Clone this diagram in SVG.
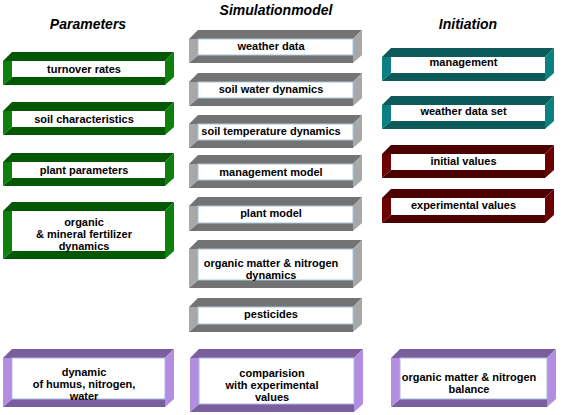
<svg xmlns="http://www.w3.org/2000/svg" width="567" height="415" viewBox="0 0 567 415">
<style>
.h{font-family:"Liberation Sans",Arial,sans-serif;font-size:14px;font-weight:bold;font-style:italic;fill:#000;text-anchor:middle}
.t{font-family:"Liberation Sans",Arial,sans-serif;font-size:11px;font-weight:bold;fill:#000;text-anchor:middle}
.w{fill:#fff}
.gd{fill:#045804}.gl{fill:#0e800e}
.sd{fill:#737373}.sl{fill:#a8a8a8}
.cd{fill:#0c5a5a}.cl{fill:#0b8080}
.rd{fill:#4c0000}.rl{fill:#6c0000}
.pd{fill:#7b5e9e}.pl{fill:#b28de0}
.grey .w{stroke:#a9c8d8;stroke-width:1}
.purp .w{stroke:#a9b8e0;stroke-width:1}
</style>
<rect width="567" height="415" fill="#fff"/>
<text class="h" x="88" y="29">Parameters</text>
<text class="h" x="276" y="15">Simulationmodel</text>
<text class="h" x="468" y="29">Initiation</text>

<!-- left column, green: L=3 R=174 -->
<g id="turnover-rates">
<polygon class="gd" points="3,61 12,52 174,52 165,61"/>
<polygon class="gl" points="165,61 174,52 174,77 165,85"/>
<polygon class="gd" points="3,85 12,77 165,77 165,85"/>
<polygon class="gl" points="3,61 12,61 12,77 3,85"/>
<rect class="w" x="12" y="61" width="153" height="16"/>
<text class="t" x="84" y="73">turnover rates</text>
</g>
<g id="soil-characteristics">
<polygon class="gd" points="3,111 12,102 174,102 165,111"/>
<polygon class="gl" points="165,111 174,102 174,127 165,135"/>
<polygon class="gd" points="3,135 12,127 165,127 165,135"/>
<polygon class="gl" points="3,111 12,111 12,127 3,135"/>
<rect class="w" x="12" y="111" width="153" height="16"/>
<text class="t" x="84" y="123">soil characteristics</text>
</g>
<g id="plant-parameters">
<polygon class="gd" points="3,162 12,153 174,153 165,162"/>
<polygon class="gl" points="165,162 174,153 174,178 165,186"/>
<polygon class="gd" points="3,186 12,178 165,178 165,186"/>
<polygon class="gl" points="3,162 12,162 12,178 3,186"/>
<rect class="w" x="12" y="162" width="153" height="16"/>
<text class="t" x="84" y="174">plant parameters</text>
</g>
<g id="organic-fertilizer">
<polygon class="gd" points="3,211 12,202 174,202 165,211"/>
<polygon class="gl" points="165,211 174,202 174,251 165,259"/>
<polygon class="gd" points="3,259 12,251 165,251 165,259"/>
<polygon class="gl" points="3,211 12,211 12,251 3,259"/>
<rect class="w" x="12" y="211" width="153" height="40"/>
<text class="t" x="84" y="226">organic</text>
<text class="t" x="84" y="238">&amp; mineral fertilizer</text>
<text class="t" x="84" y="250">dynamics</text>
</g>

<!-- middle column, grey: L=189 R=362 -->
<g id="weather-data" class="grey">
<polygon class="sd" points="189,39 198,30 362,30 353,39"/>
<polygon class="sl" points="353,39 362,30 362,55 353,63"/>
<polygon class="sd" points="189,63 198,55 353,55 353,63"/>
<polygon class="sl" points="189,39 198,39 198,55 189,63"/>
<rect class="w" x="198" y="39" width="155" height="16"/>
<text class="t" x="271" y="50">weather data</text>
</g>
<g id="soil-water-dynamics" class="grey">
<polygon class="sd" points="189,82 198,73 362,73 353,82"/>
<polygon class="sl" points="353,82 362,73 362,98 353,106"/>
<polygon class="sd" points="189,106 198,98 353,98 353,106"/>
<polygon class="sl" points="189,82 198,82 198,98 189,106"/>
<rect class="w" x="198" y="82" width="155" height="16"/>
<text class="t" x="271" y="93">soil water dynamics</text>
</g>
<g id="soil-temperature-dynamics" class="grey">
<polygon class="sd" points="189,124 198,115 362,115 353,124"/>
<polygon class="sl" points="353,124 362,115 362,140 353,148"/>
<polygon class="sd" points="189,148 198,140 353,140 353,148"/>
<polygon class="sl" points="189,124 198,124 198,140 189,148"/>
<rect class="w" x="198" y="124" width="155" height="16"/>
<text class="t" x="271" y="135">soil temperature dynamics</text>
</g>
<g id="management-model" class="grey">
<polygon class="sd" points="189,164 198,155 362,155 353,164"/>
<polygon class="sl" points="353,164 362,155 362,180 353,188"/>
<polygon class="sd" points="189,188 198,180 353,180 353,188"/>
<polygon class="sl" points="189,164 198,164 198,180 189,188"/>
<rect class="w" x="198" y="164" width="155" height="16"/>
<text class="t" x="271" y="176">management model</text>
</g>
<g id="plant-model" class="grey">
<polygon class="sd" points="189,206 198,197 362,197 353,206"/>
<polygon class="sl" points="353,206 362,197 362,223 353,231"/>
<polygon class="sd" points="189,231 198,223 353,223 353,231"/>
<polygon class="sl" points="189,206 198,206 198,223 189,231"/>
<rect class="w" x="198" y="206" width="155" height="17"/>
<text class="t" x="271" y="217">plant model</text>
</g>
<g id="organic-matter-nitrogen-dynamics" class="grey">
<polygon class="sd" points="189,249 198,240 362,240 353,249"/>
<polygon class="sl" points="353,249 362,240 362,280 353,288"/>
<polygon class="sd" points="189,288 198,280 353,280 353,288"/>
<polygon class="sl" points="189,249 198,249 198,280 189,288"/>
<rect class="w" x="198" y="249" width="155" height="31"/>
<text class="t" x="271" y="267">organic matter &amp; nitrogen</text>
<text class="t" x="271" y="279">dynamics</text>
</g>
<g id="pesticides" class="grey">
<polygon class="sd" points="189,307 198,298 362,298 353,307"/>
<polygon class="sl" points="353,307 362,298 362,324 353,332"/>
<polygon class="sd" points="189,332 198,324 353,324 353,332"/>
<polygon class="sl" points="189,307 198,307 198,324 189,332"/>
<rect class="w" x="198" y="307" width="155" height="17"/>
<text class="t" x="271" y="318">pesticides</text>
</g>

<!-- right column: L=382 R=554 -->
<g id="management">
<polygon class="cd" points="382,57 391,48 554,48 545,57"/>
<polygon class="cl" points="545,57 554,48 554,73 545,81"/>
<polygon class="cd" points="382,81 391,73 545,73 545,81"/>
<polygon class="cl" points="382,57 391,57 391,73 382,81"/>
<rect class="w" x="391" y="57" width="154" height="16"/>
<text class="t" x="463.5" y="66">management</text>
</g>
<g id="weather-data-set">
<polygon class="cd" points="382,105 391,96 554,96 545,105"/>
<polygon class="cl" points="545,105 554,96 554,121 545,129"/>
<polygon class="cd" points="382,129 391,121 545,121 545,129"/>
<polygon class="cl" points="382,105 391,105 391,121 382,129"/>
<rect class="w" x="391" y="105" width="154" height="16"/>
<text class="t" x="463.5" y="115">weather data set</text>
</g>
<g id="initial-values">
<polygon class="rd" points="382,154 391,145 554,145 545,154"/>
<polygon class="rl" points="545,154 554,145 554,170 545,178"/>
<polygon class="rd" points="382,178 391,170 545,170 545,178"/>
<polygon class="rl" points="382,154 391,154 391,170 382,178"/>
<rect class="w" x="391" y="154" width="154" height="16"/>
<text class="t" x="463.5" y="165">initial values</text>
</g>
<g id="experimental-values">
<polygon class="rd" points="382,198 391,189 554,189 545,198"/>
<polygon class="rl" points="545,198 554,189 554,215 545,223"/>
<polygon class="rd" points="382,223 391,215 545,215 545,223"/>
<polygon class="rl" points="382,198 391,198 391,215 382,223"/>
<rect class="w" x="391" y="198" width="154" height="17"/>
<text class="t" x="463.5" y="209">experimental values</text>
</g>

<!-- bottom row, purple -->
<g id="dynamic-humus" class="purp">
<polygon class="pd" points="3,358 12,349 174,349 165,358"/>
<polygon class="pl" points="165,358 174,349 174,399 165,407"/>
<polygon class="pd" points="3,407 12,399 165,399 165,407"/>
<polygon class="pl" points="3,358 12,358 12,399 3,407"/>
<rect class="w" x="12" y="358" width="153" height="41"/>
<text class="t" x="84" y="376">dynamic</text>
<text class="t" x="84" y="388">of humus, nitrogen,</text>
<text class="t" x="84" y="400">water</text>
</g>
<g id="comparision" class="purp">
<polygon class="pd" points="190,358 199,349 363,349 354,358"/>
<polygon class="pl" points="354,358 363,349 363,404 354,412"/>
<polygon class="pd" points="190,412 199,404 354,404 354,412"/>
<polygon class="pl" points="190,358 199,358 199,404 190,412"/>
<rect class="w" x="199" y="358" width="155" height="46"/>
<text class="t" x="272" y="377">comparision</text>
<text class="t" x="272" y="389">with experimental</text>
<text class="t" x="272" y="401">values</text>
</g>
<g id="organic-matter-nitrogen-balance" class="purp">
<polygon class="pd" points="391,358 400,349 556,349 547,358"/>
<polygon class="pl" points="547,358 556,349 556,399 547,407"/>
<polygon class="pd" points="391,407 400,399 547,399 547,407"/>
<polygon class="pl" points="391,358 400,358 400,399 391,407"/>
<rect class="w" x="400" y="358" width="147" height="41"/>
<text class="t" x="469" y="381">organic matter &amp; nitrogen</text>
<text class="t" x="469" y="393">balance</text>
</g>

<g id="connectors"></g>
</svg>
